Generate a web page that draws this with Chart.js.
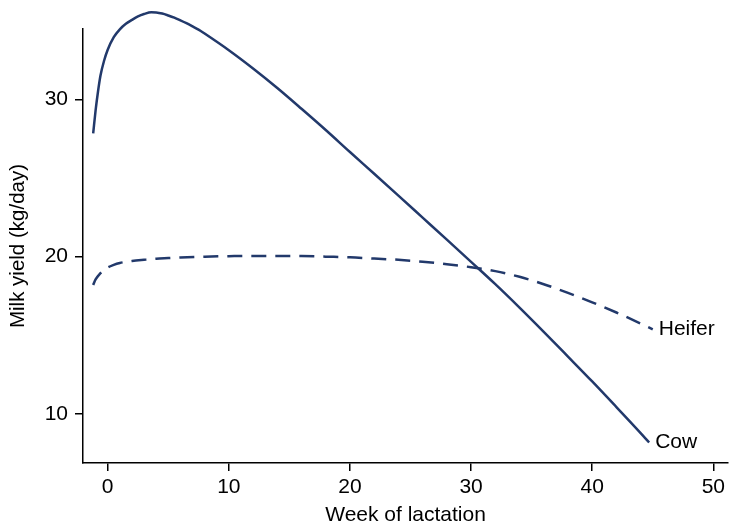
<!DOCTYPE html>
<html><head><meta charset="utf-8">
<script src="https://cdn.jsdelivr.net/npm/chart.js@4/dist/chart.umd.min.js"></script>
<style>html,body{margin:0;padding:0;background:#fff;}canvas{display:block;}</style>
</head><body>
<canvas id="c" width="729" height="529"></canvas>
<script>
const seriesNames = ['Cow', 'Heifer'];
const cowWeeks = [-1.2,-1.0,-0.8,-0.6,-0.3,0,0.5,1,1.5,2,2.5,3,3.6,4,4.5,5,5.5,6,6.5,7,7.5,8,10,12,14,16,18,20,22,24,26,28,30,32,34,36,38,40,42,44,44.7];
const cowYield = [27.84,29.3,30.5,31.5,32.45,33.15,33.95,34.45,34.8,35.05,35.27,35.42,35.53,35.52,35.45,35.33,35.19,35.02,34.84,34.64,34.43,34.18,33.12,31.96,30.72,29.4,28.05,26.65,25.27,23.88,22.48,21.08,19.67,18.25,16.76,15.22,13.65,12.07,10.44,8.79,8.19];
const heiferWeeks = [-1.2,-1.0,-0.6,-0.2,0.5,1,2,3,4,5,6,8,10,12,14,16,18,20,22,24,26,28,30,32,34,36,38,40,42,44,45];
const heiferYield = [18.2,18.55,18.95,19.22,19.48,19.6,19.72,19.8,19.87,19.91,19.95,20.0,20.03,20.05,20.05,20.04,20.0,19.96,19.88,19.8,19.68,19.52,19.33,19.08,18.72,18.25,17.7,17.1,16.45,15.75,15.38];
const xTicks = [0,10,20,30,40,50];
const yTicks = [10,20,30];
const xTitle = 'Week of lactation';
const yTitle = 'Milk yield (kg/day)';

const FONT = '"Liberation Sans", Arial, Helvetica, sans-serif';
const LINE = '#22396b';
Chart.defaults.font.family = FONT;
Chart.defaults.color = '#000';

const toPts = (xs, ys) => xs.map((x, i) => ({x, y: ys[i]}));

const endLabels = {
  id: 'endLabels',
  afterDatasetsDraw(chart) {
    const ctx = chart.ctx;
    ctx.save();
    ctx.font = '21px ' + FONT;
    ctx.fillStyle = '#000';
    ctx.textBaseline = 'middle';
    ctx.textAlign = 'left';
    chart.data.datasets.forEach((ds, i) => {
      const meta = chart.getDatasetMeta(i);
      const pt = meta.data[meta.data.length - 1];
      ctx.fillText(ds.label, pt.x + 6, pt.y);
    });
    ctx.restore();
  }
};

new Chart(document.getElementById('c'), {
  type: 'line',
  data: {
    datasets: [
      { label: seriesNames[0], data: toPts(cowWeeks, cowYield), borderColor: LINE, borderWidth: 2.5,
        pointRadius: 0, cubicInterpolationMode: 'monotone', clip: false, fill: false },
      { label: seriesNames[1], data: toPts(heiferWeeks, heiferYield), borderColor: LINE, borderWidth: 2.5,
        borderDash: [15, 9], pointRadius: 0, cubicInterpolationMode: 'monotone', clip: false, fill: false }
    ]
  },
  options: {
    responsive: false,
    animation: false,
    layout: { padding: { top: 29, right: 0, bottom: 0, left: 0 } },
    plugins: { legend: { display: false }, tooltip: { enabled: false } },
    scales: {
      x: {
        type: 'linear', min: -2.04, max: 51.22,
        afterBuildTicks: s => { s.ticks = xTicks.map(v => ({ value: v })); },
        afterFit: s => { s.height = 66; },
        grid: { display: true, drawOnChartArea: false, drawTicks: true, tickLength: 8, color: '#000', lineWidth: 1.5 },
        border: { display: true, color: '#000', width: 1.5 },
        ticks: { font: { size: 21 }, color: '#000', padding: 4, maxRotation: 0, autoSkip: false },
        title: { display: true, text: xTitle, font: { size: 21 }, color: '#000', padding: { top: 0, bottom: 1 } }
      },
      y: {
        type: 'linear', min: 6.886, max: 34.47,
        afterBuildTicks: s => { s.ticks = yTicks.map(v => ({ value: v })); },
        afterFit: s => { s.width = 83; },
        grid: { display: true, drawOnChartArea: false, drawTicks: true, tickLength: 8, color: '#000', lineWidth: 1.5 },
        border: { display: true, color: '#000', width: 1.5 },
        ticks: { font: { size: 21 }, color: '#000', padding: 7, autoSkip: false },
        title: { display: true, text: yTitle, font: { size: 20.5 }, color: '#000', padding: { top: 6, bottom: 0 } }
      }
    }
  },
  plugins: [endLabels]
});
</script>
</body></html>
